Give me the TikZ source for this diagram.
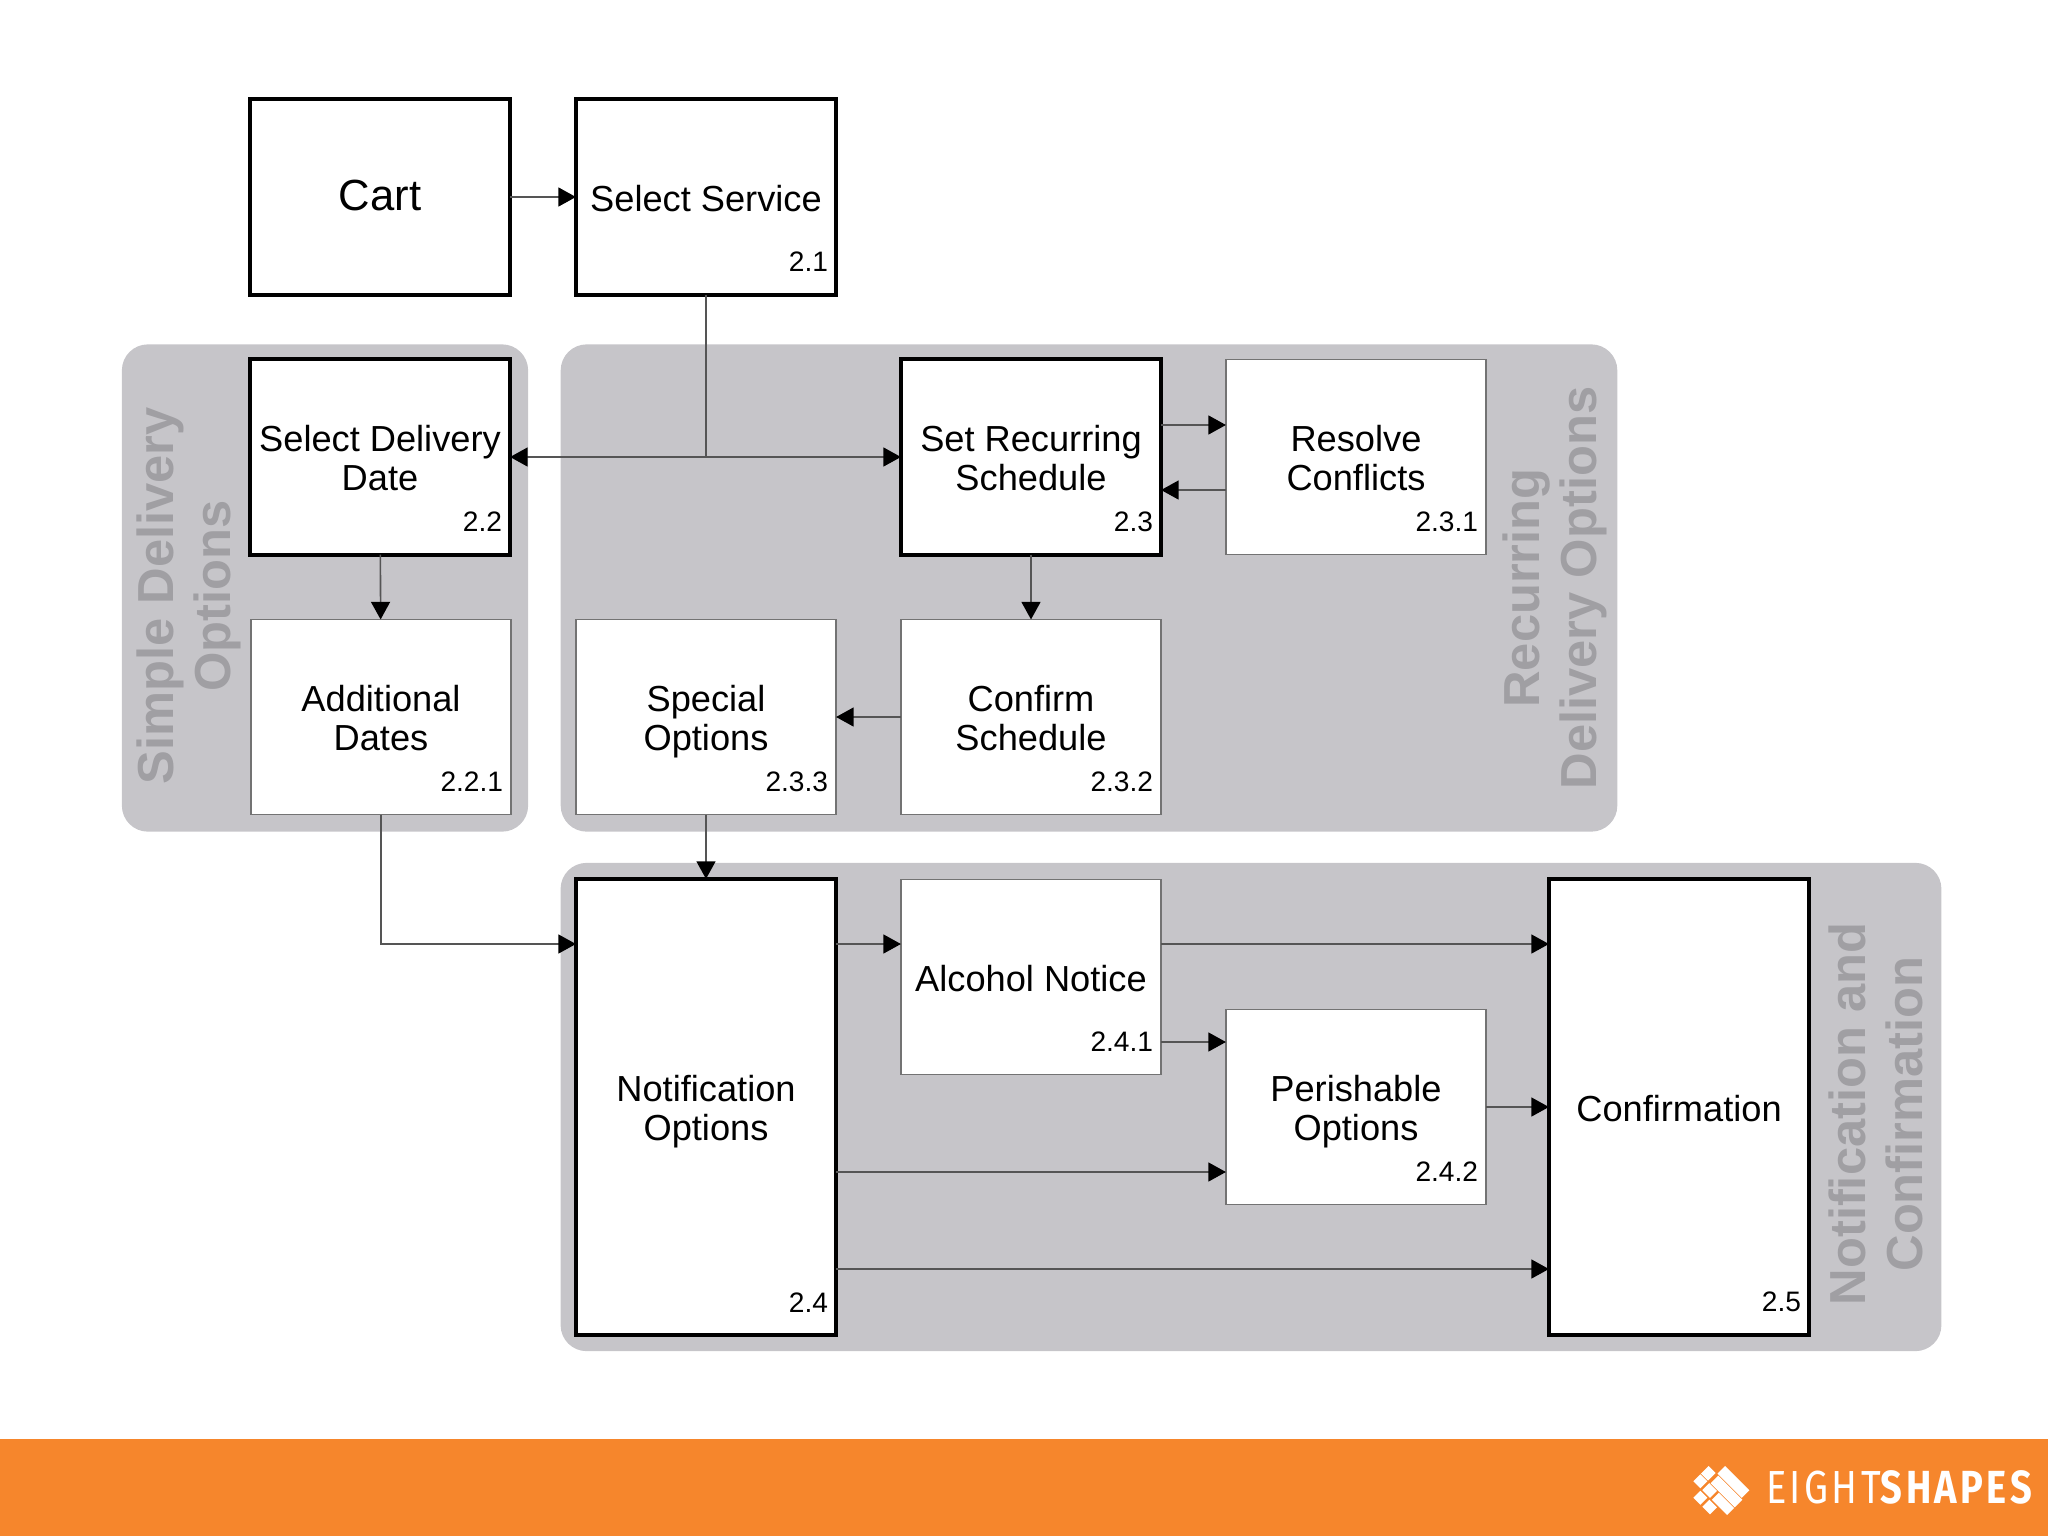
\documentclass[tikz,border=0pt]{standalone}
\usepackage{fontspec}
\usepackage{xcolor}
\setmainfont{Liberation Sans}
\newfontfamily\logofont[LetterSpace=9]{Fira Sans}
\usetikzlibrary{arrows.meta, positioning}
\definecolor{groupgray}{HTML}{C6C5C9}
\definecolor{grouptext}{HTML}{A09FA3}
\definecolor{linegray}{HTML}{555555}
\definecolor{brandorange}{HTML}{F6862C}

\begin{document}
\begin{tikzpicture}[
    x=0.01cm, y=-0.01cm,
    every node/.style={font=\fontsize{10.3}{10.9}\selectfont, outer sep=0pt},
    box/.style={draw=black, line width=1.15pt, fill=white, minimum width=2.6cm, minimum height=1.95cm, align=center, inner sep=0pt, execute at begin node={\rule{0pt}{10.5pt}}, execute at end node={\vphantom{p}}},
    sub/.style={box, draw=black!55, line width=0.4pt},
    two/.style={execute at begin node={\rule{0pt}{21pt}}},
    tall/.style={minimum height=4.56cm},
    num/.style={anchor=south east, inner sep=0pt, xshift=-0.08cm, yshift=0.23cm, font=\fontsize{8}{9}\selectfont},
    grp/.style={fill=groupgray, rounded corners=0.26cm, inner sep=0pt},
    grplabel/.style={rotate=90, align=center, text=grouptext, font=\fontsize{14.4}{16}\selectfont\bfseries},
    arr/.style={-{Triangle[length=5pt, width=5.4pt, color=black]}, draw=linegray, line width=0.45pt},
    line/.style={draw=linegray, line width=0.45pt},
]
\useasboundingbox (0,0) rectangle (2048,1536);

% groups
\node[grp, minimum width=4.06cm, minimum height=4.87cm] (grpSimple) at (325,588) {};
\node[grp, minimum width=10.56cm, minimum height=4.87cm] (grpRecur) at (1089,588) {};
\node[grp, minimum width=13.8cm, minimum height=4.88cm] (grpNotif) at (1251,1107) {};

\node[grplabel] (lblSimple) at (189,596) {Simple Delivery\\Options};
\node[grplabel] (lblRecur) at (1555,588) {Recurring\\Delivery Options};
\node[grplabel] (lblNotif) at (1876,1114) {Notification and\\Confirmation};

% boxes
\node[box, font=\fontsize{12.4}{14}\selectfont] (cart) at (380,197) {Cart};
\node[box] (service) at (706,197) {Select Service};
\node[box, two] (date) at (380,457) {Select Delivery\\Date};
\node[box, two] (recur) at (1031,457) {Set Recurring\\Schedule};
\node[sub, two] (conflict) at (1356,457) {Resolve\\Conflicts};
\node[sub, two] (dates) at (381,717) {Additional\\Dates};
\node[sub, two] (special) at (706,717) {Special\\Options};
\node[sub, two] (confirm) at (1031,717) {Confirm\\Schedule};
\node[box, tall, two] (notif) at (706,1107) {Notification\\Options};
\node[sub] (alcohol) at (1031,977) {Alcohol Notice};
\node[sub, two] (perish) at (1356,1107) {Perishable\\Options};
\node[box, tall] (final) at (1679,1107) {Confirmation};

% numbers
\node[num] (n21) at (service.south east) {2.1};
\node[num] (n22) at (date.south east) {2.2};
\node[num] (n221) at (dates.south east) {2.2.1};
\node[num] (n23) at (recur.south east) {2.3};
\node[num] (n231) at (conflict.south east) {2.3.1};
\node[num] (n232) at (confirm.south east) {2.3.2};
\node[num] (n233) at (special.south east) {2.3.3};
\node[num] (n24) at (notif.south east) {2.4};
\node[num] (n241) at (alcohol.south east) {2.4.1};
\node[num] (n242) at (perish.south east) {2.4.2};
\node[num] (n25) at (final.south east) {2.5};

% connectors
\coordinate (split) at (service.south |- date.east);
\coordinate (upper) at (0,944);
\coordinate (alcLow) at (0,1042);
\coordinate (notifMid) at (0,1172);
\coordinate (notifLow) at (0,1269);
\draw[arr] (cart) -- (service);
\draw[line] (service.south) -- (split);
\draw[arr] (split) -- (date.east);
\draw[arr] (split) -- (recur.west);
\draw[arr] (date) -- (dates);
\draw[arr] ([yshift=0.32cm]recur.east) -- ([yshift=0.32cm]conflict.west);
\draw[arr] ([yshift=-0.33cm]conflict.west) -- ([yshift=-0.33cm]recur.east);
\draw[arr] (recur) -- (confirm);
\draw[arr] (confirm) -- (special);
\draw[arr] (special) -- (notif);
\draw[arr] (dates.south) |- (notif.west |- upper);
\draw[arr] (notif.east |- upper) -- (alcohol.west |- upper);
\draw[arr] (alcohol.east |- upper) -- (final.west |- upper);
\draw[arr] (alcohol.east |- alcLow) -- (perish.west |- alcLow);
\draw[arr] (notif.east |- notifMid) -- (perish.west |- notifMid);
\draw[arr] (perish) -- (final.west |- perish);
\draw[arr] (notif.east |- notifLow) -- (final.west |- notifLow);

% footer
\node[fill=brandorange, minimum width=20.48cm, minimum height=0.97cm, inner sep=0pt] (footer) at (1024,1487.5) {};
\begin{scope}[shift={(1722,1487)}, rotate=-45, scale=0.9]
  \foreach \a/\b/\c/\d in {-14/-19/24/-7, -12/-6/26/6, 2/7/26/18, -27/-6/-16/6, -27/7/-16/18, -13/7/-1/18, -14/20/-3/31, 0/20/12/31}
    \fill[white] (\a,\b) rectangle (\c,\d);
\end{scope}
\node[anchor=west, inner sep=0pt, text=white] (logo) at (1766,1487) {\scalebox{0.82}[1]{\fontsize{13.2}{14}\logofont EIGHT\bfseries SHAPES}};
\end{tikzpicture}
\end{document}
